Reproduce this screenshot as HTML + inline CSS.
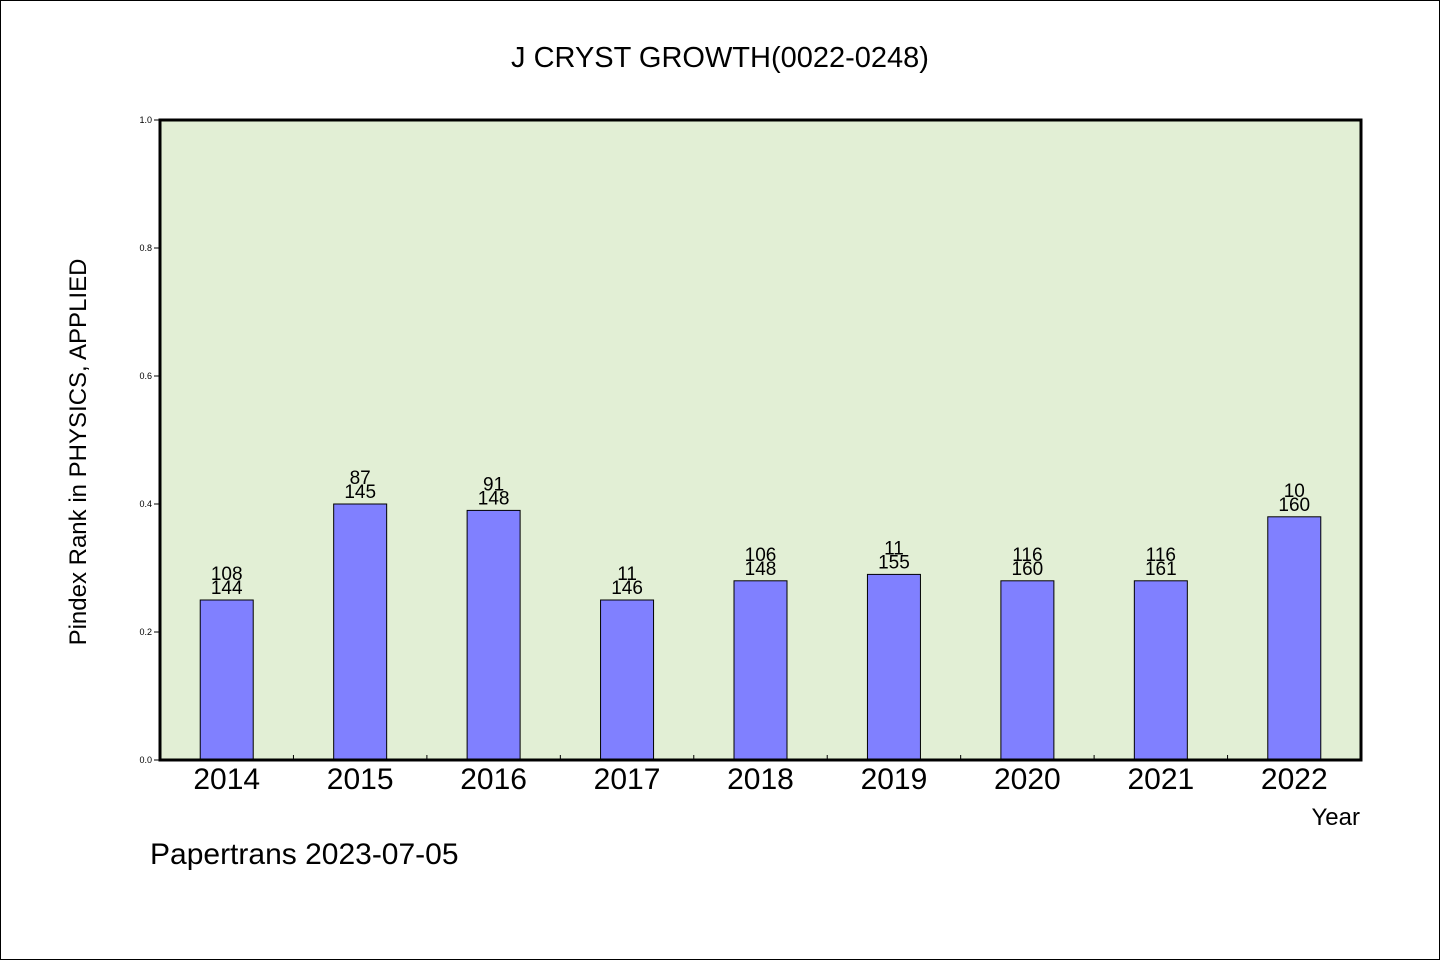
<!DOCTYPE html>
<html><head><meta charset="utf-8"><style>
body{margin:0;background:#fff}
svg{display:block}
text{font-family:"WenQuanYi Zen Hei","Liberation Sans",sans-serif;fill:#000}
</style></head><body>
<svg id="c" width="1440" height="960">
<rect x="0.5" y="0.5" width="1439" height="959" fill="#fff" stroke="#000"/>
<text x="720" y="67" font-size="29" text-anchor="middle">J CRYST GROWTH(0022-0248)</text>
<rect x="160" y="120" width="1201" height="640" fill="#e2efd5"/>
<g id="bars"></g>
<rect x="160" y="120" width="1201" height="640" fill="none" stroke="#000" stroke-width="3"/>
<text transform="translate(86,452) rotate(-90)" font-size="24" text-anchor="middle">Pindex Rank in PHYSICS, APPLIED</text>
<text x="1360" y="825" font-size="24" text-anchor="end">Year</text>
<text x="150" y="864" font-size="30">Papertrans 2023-07-05</text>
</svg>
<script>
const years=["2014","2015","2016","2017","2018","2019","2020","2021","2022"];
const values=[0.25,0.40,0.39,0.25,0.28,0.29,0.28,0.28,0.38];
const ranks=["108","87","91","11","106","11","116","116","10"];
const totals=["144","145","148","146","148","155","160","161","160"];
const yTicks=[0,0.2,0.4,0.6,0.8,1.0];
const NS="http://www.w3.org/2000/svg";
const svg=document.getElementById('c'),g=document.getElementById('bars');
const x0=160,pw=1201,y0=760,ph=640;
const band=pw/years.length;
const yS=v=>y0-v*ph;
function mk(t,a,p){const e=document.createElementNS(NS,t);for(const k in a)e.setAttribute(k,a[k]);(p||svg).appendChild(e);return e;}
yTicks.forEach(v=>{
 const l=mk('line',{x1:x0-6,x2:x0,y1:yS(v),y2:yS(v),stroke:'#000'});
 
 
 const t=mk('text',{x:x0-8,y:yS(v)+3,'font-size':9,'text-anchor':'end'});
 t.textContent=v.toFixed(1);
 
 
});
years.forEach((y,i)=>{
 const cx=x0+band*(i+0.5),w=53,top=yS(values[i]);
 const r=mk('rect',{x:cx-w/2,y:top,width:w,height:y0-top,fill:'#8080ff',stroke:'#000','stroke-width':1},g);
 
 
 const a=mk('text',{x:cx,y:top-20,'font-size':19,'text-anchor':'middle'},g);
 a.textContent=ranks[i];
 
 
 const b=mk('text',{x:cx,y:top-6,'font-size':19,'text-anchor':'middle'},g);
 b.textContent=totals[i];
 
 
 const t=mk('text',{x:cx,y:789,'font-size':30,'text-anchor':'middle'});
 t.textContent=y;
 
 
 if(i>0){const l=mk('line',{x1:x0+band*i,x2:x0+band*i,y1:y0,y2:y0-5,stroke:'#000'});
 
 }
});
</script>
</body></html>
